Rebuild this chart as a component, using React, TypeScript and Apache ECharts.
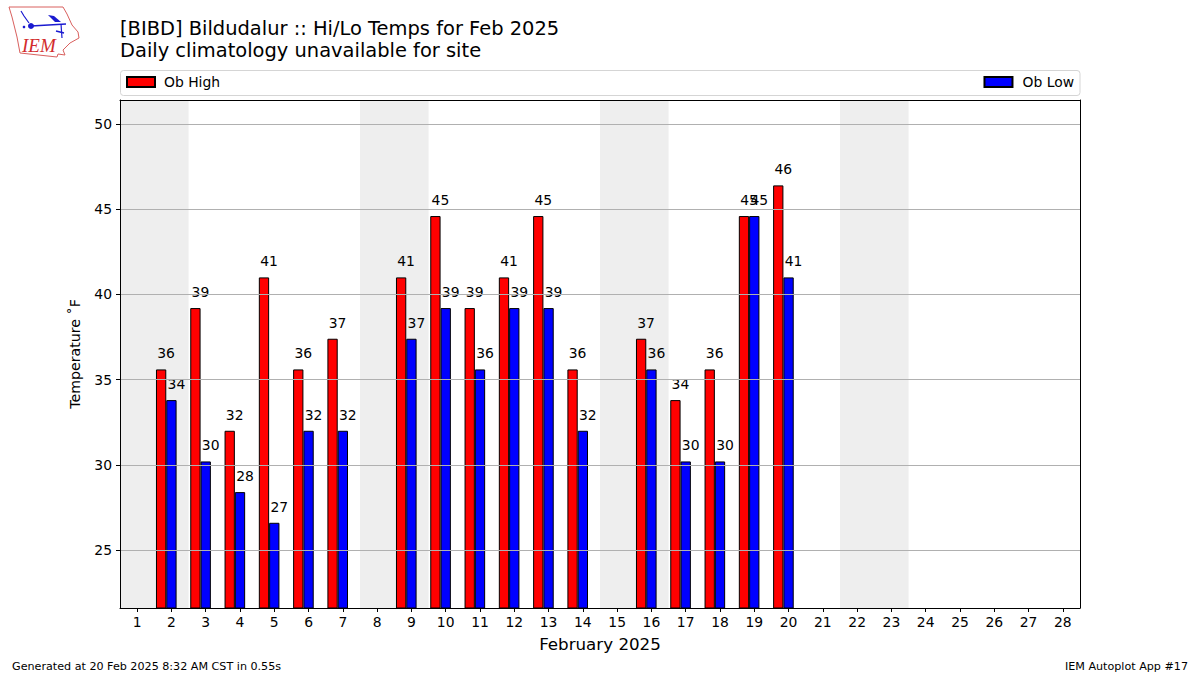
import React, { useEffect, useRef } from "react";
import * as echarts from "echarts";

const days = ["1","2","3","4","5","6","7","8","9","10","11","12","13","14","15","16","17","18","19","20","21","22","23","24","25","26","27","28"];
const obHigh = ["-",35.6,39.2,32,41,35.6,37.4,"-",41,44.6,39.2,41,44.6,35.6,"-",37.4,33.8,35.6,44.6,46.4,"-","-","-","-","-","-","-","-"];
const obLow = ["-",33.8,30.2,28.4,26.6,32,32,"-",37.4,39.2,35.6,39.2,39.2,32,"-",35.6,30.2,30.2,44.6,41,"-","-","-","-","-","-","-","-"];
const weekendSpans = [[0.5,2.5],[7.5,9.5],[14.5,16.5],[21.5,23.5]];
const yTicks = [25,30,35,40,45,50];
const titleLines = ["[BIBD] Bildudalur :: Hi/Lo Temps for Feb 2025","Daily climatology unavailable for site"];

const FONT = "DejaVu Sans";
const TXT = "#000";
const YMIN = 21.6;
const YMAX = 51.41;

function barSeries(name: string, data: (number|string)[], color: string) {
  return {
    name, type: "bar", data, barWidth: 10.3, barGap: "0%", z: 2,
    itemStyle: { color, borderColor: "#000", borderWidth: 1 },
    label: {
      show: true, position: "top", distance: 9, offset: [5, 0],
      fontFamily: FONT, fontSize: 13.9, color: TXT,
      formatter: (p: any) => String(Math.round(p.value)),
    },
  };
}

export default function App() {
  const ref = useRef<HTMLDivElement>(null);
  useEffect(() => {
    const chart = echarts.init(ref.current!, null, { renderer: "svg" });
    const logoRed = "#d9605e";
    const logoBlue = "#1a1ad0";
    const legendBase = { top: 75, padding: 0, icon: "rect", itemWidth: 28, itemHeight: 10, itemGap: 0 };
    chart.setOption({
      animation: false,
      backgroundColor: "#fff",
      textStyle: { fontFamily: FONT },
      title: [
        { text: titleLines[0], left: 120, top: 19, padding: 0, textStyle: { fontFamily: FONT, fontSize: 19.45, fontWeight: "normal", color: TXT } },
        { text: titleLines[1], left: 120, top: 41, padding: 0, textStyle: { fontFamily: FONT, fontSize: 19.45, fontWeight: "normal", color: TXT } },
      ],
      legend: [
        { ...legendBase, data: ["Ob High"], left: 126, textStyle: { fontFamily: FONT, fontSize: 13.9, color: TXT, padding: [0,0,0,4] } },
        { ...legendBase, data: ["Ob Low"], right: 126, textStyle: { fontFamily: FONT, fontSize: 13.9, color: TXT, padding: [0,0,0,5] } },
      ],
      grid: { left: 120, right: 120, top: 100, bottom: 67, show: false },
      xAxis: [
        {
          type: "category", data: days, boundaryGap: true, z: 3,
          name: "February 2025", nameLocation: "middle", nameGap: 27,
          nameTextStyle: { fontFamily: FONT, fontSize: 16.7, color: TXT },
          axisLine: { show: true, lineStyle: { color: "#000" } },
          axisTick: { show: true, alignWithLabel: true, length: 4, lineStyle: { color: "#000" } },
          axisLabel: { interval: 0, margin: 7, fontFamily: FONT, fontSize: 13.9, color: TXT },
          splitLine: { show: false },
        },
        {
          type: "value", min: 0.5, max: 28.5, position: "top", z: 3,
          axisLine: { show: true, onZero: false, lineStyle: { color: "#000" } },
          axisTick: { show: false }, axisLabel: { show: false }, splitLine: { show: false },
        },
      ],
      yAxis: [
        {
          type: "value", min: YMIN, max: YMAX, z: 3,
          name: "Temperature ˚F", nameLocation: "middle", nameGap: 38,
          nameTextStyle: { fontFamily: FONT, fontSize: 14.2, color: TXT },
          axisLine: { show: true, onZero: false, lineStyle: { color: "#000" } },
          axisTick: { show: true, length: 4, lineStyle: { color: "#000" }, customValues: yTicks },
          axisLabel: { margin: 8, fontFamily: FONT, fontSize: 13.9, color: TXT, customValues: yTicks },
          splitLine: { show: true, lineStyle: { color: "#b0b0b0", width: 1 } },
        },
        {
          type: "value", min: YMIN, max: YMAX, position: "right", z: 3,
          axisLine: { show: true, onZero: false, lineStyle: { color: "#000" } },
          axisTick: { show: false }, axisLabel: { show: false }, splitLine: { show: false },
        },
      ],
      series: [
        {
          name: "Weekends", type: "line", xAxisIndex: 1, data: [], z: 1, silent: true,
          markArea: {
            silent: true, z: 1,
            itemStyle: { color: "#eeeeee" },
            data: weekendSpans.map(([a, b]) => [{ xAxis: a }, { xAxis: b }]),
          },
        },
        barSeries("Ob High", obHigh, "#ff0000"),
        barSeries("Ob Low", obLow, "#0000ff"),
        { name: "Spacer", type: "bar", data: [], barWidth: 10.3, barGap: "0%", silent: true },
      ],
      graphic: [
        { type: "rect", z: 0, shape: { x: 120.5, y: 70.5, width: 959.5, height: 25, r: 3 }, style: { fill: "#fff", stroke: "#d5d5d5", lineWidth: 1 } },
        { type: "text", x: 12, y: 661, style: { text: "Generated at 20 Feb 2025 8:32 AM CST in 0.55s", font: `11.15px "${FONT}"`, fill: TXT } },
        { type: "text", x: 1188, y: 661, style: { text: "IEM Autoplot App #17", font: `11.15px "${FONT}"`, fill: TXT, textAlign: "right" } },
        { type: "polyline", shape: { points: [[9,7],[63,7],[67,14],[72,25],[78,32],[79,38],[70,43],[63,50],[65,55],[58,54],[57,57],[20,53],[17,37],[12,17],[9,7]] }, style: { fill: "#fff", stroke: logoRed, lineWidth: 1 } },
        { type: "text", x: 22, y: 36, style: { text: "IEM", font: 'italic 19px "Liberation Serif"', fill: "#d22c2c" } },
        { type: "circle", shape: { cx: 31, cy: 26, r: 3 }, style: { fill: logoBlue } },
        { type: "line", shape: { x1: 31, y1: 26, x2: 66, y2: 24 }, style: { stroke: logoBlue, lineWidth: 1.4 } },
        { type: "polyline", shape: { points: [[21,11],[24,16],[29,23]] }, style: { stroke: logoBlue, lineWidth: 1.2, fill: "none" } },
        { type: "polygon", shape: { points: [[48,15],[54,16],[61,22],[55,22]] }, style: { fill: logoBlue } },
        { type: "line", shape: { x1: 61, y1: 24, x2: 62, y2: 38 }, style: { stroke: logoBlue, lineWidth: 1.2 } },
        { type: "line", shape: { x1: 56, y1: 31, x2: 64, y2: 33 }, style: { stroke: logoBlue, lineWidth: 1.5 } },
        { type: "circle", shape: { cx: 24, cy: 27, r: 1.3 }, style: { fill: logoBlue } },
      ],
    });
    return () => chart.dispose();
  }, []);
  return <div ref={ref} style={{ position: "fixed", left: 0, top: 0, width: 1200, height: 675 }} />;
}
